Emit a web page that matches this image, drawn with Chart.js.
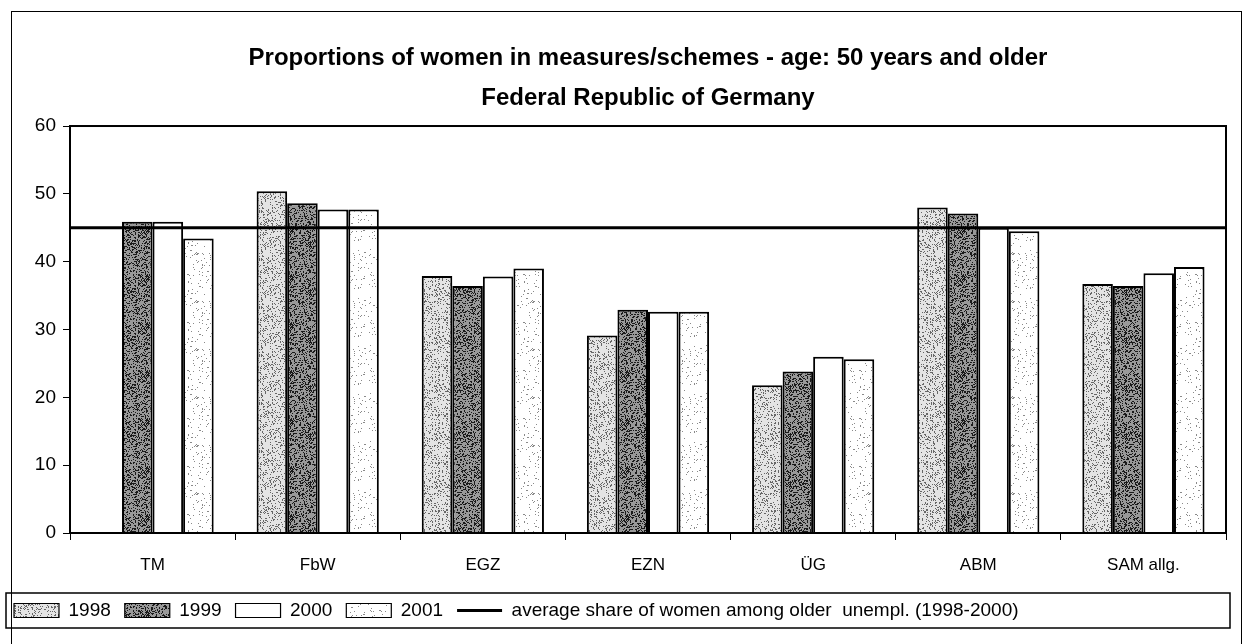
<!DOCTYPE html>
<html><head><meta charset="utf-8">
<script src="https://cdn.jsdelivr.net/npm/chart.js@4/dist/chart.umd.min.js"></script>
<style>html,body{margin:0;padding:0;background:#fff}#wrap{width:1246px;height:644px}</style>
</head><body><div id="wrap"><canvas id="c" width="1246" height="644"></canvas></div>
<script>
// ---- data ----
const categories = ['TM', 'FbW', 'EGZ', 'EZN', 'ÜG', 'ABM', 'SAM allg.'];
const seriesNames = ['1998', '1999', '2000', '2001'];
const values1998 = [null, 50.4, 37.9, 29.1, 21.8, 48.0, 36.7];
const values1999 = [45.9, 48.6, 36.4, 32.9, 23.8, 47.1, 36.4];
const values2000 = [45.9, 47.7, 37.8, 32.6, 26.0, 45.0, 38.3];
const values2001 = [43.4, 47.7, 39.0, 32.6, 25.6, 44.5, 39.2];
const averageShare = 45.0;
const averageLabel = 'average share of women among older  unempl. (1998-2000)';
const titleLines = ['Proportions of women in measures/schemes - age: 50 years and older', 'Federal Republic of Germany'];
const yTicks = [0, 10, 20, 30, 40, 50, 60];

// ---- speckle textures (styling only) ----
function rng(seed) { return function () { seed |= 0; seed = seed + 0x6D2B79F5 | 0; let t = Math.imul(seed ^ seed >>> 15, 1 | seed); t = t + Math.imul(t ^ t >>> 7, 61 | t) ^ t; return ((t ^ t >>> 14) >>> 0) / 4294967296; }; }
function speckle(base, dot, density, seed) {
  const c = document.createElement('canvas'); c.width = 48; c.height = 48;
  const g = c.getContext('2d'); g.fillStyle = base; g.fillRect(0, 0, 48, 48);
  const r = rng(seed); g.fillStyle = dot;
  for (let i = 0; i < 48 * 48 * density; i++) { g.fillRect(Math.floor(r() * 48), Math.floor(r() * 48), 1, 1); }
  return g.createPattern(c, 'repeat');
}
const fills = [
  speckle('#e4e4e4', '#666666', 0.22, 11),
  speckle('#999999', '#1a1a1a', 0.38, 23),
  '#ffffff',
  speckle('#ffffff', '#8a8a8a', 0.05, 37)
];

Chart.defaults.font.family = "'Liberation Sans', Arial, sans-serif";
Chart.defaults.color = '#000';

const barData = [values1998, values1999, values2000, values2001];
const datasets = seriesNames.map((name, i) => ({
  type: 'bar', label: name, data: barData[i], backgroundColor: fills[i], indexAxis: 'x',
  borderColor: '#000', borderWidth: 2, xAxisID: 'x', yAxisID: 'y', order: 1,
  categoryPercentage: 0.74, barPercentage: 1.0
}));
datasets.push({
  type: 'line', label: averageLabel, indexAxis: 'x',
  data: [{ x: 0, y: averageShare }, { x: 1, y: averageShare }],
  xAxisID: 'xAvg', yAxisID: 'y', borderColor: '#000', borderWidth: 3,
  pointRadius: 0, fill: false, order: 0
});

const framePlugin = {
  id: 'frame',
  afterLayout(chart) {
    const a = chart.chartArea;
    if (chart.titleBlock) { chart.titleBlock.left = a.left; chart.titleBlock.right = a.right; }
  },
  afterDatasetsDraw(chart) {
    const a = chart.chartArea, ctx = chart.ctx;
    ctx.save(); ctx.strokeStyle = '#000'; ctx.lineWidth = 2;
    ctx.strokeRect(a.left, a.top, a.right - a.left, a.bottom - a.top);
    ctx.restore();
  },
  afterDraw(chart) {
    const ctx = chart.ctx, lg = chart.legend;
    ctx.save(); ctx.strokeStyle = '#000';
    ctx.lineWidth = 1;
    ctx.strokeRect(11.5, 11.5, chart.width - 16, chart.height + 20);
    const hb = lg.legendHitBoxes;
    const top = hb[0].top - 8, bottom = hb[0].top + hb[0].height + 8;
    ctx.lineWidth = 1.5;
    ctx.strokeRect(6, top, chart.width - 22, bottom - top);
    ctx.restore();
  }
};

new Chart(document.getElementById('c'), {
  type: 'bar',
  data: { labels: categories, datasets },
  options: {
    indexAxis: 'y',
    responsive: false, animation: false, devicePixelRatio: 1,
    layout: { padding: { left: 0, right: 20, top: 0, bottom: 14 } },
    scales: {
      x: {
        type: 'category', position: 'bottom', offset: true,
        grid: { display: true, offset: true, drawOnChartArea: false, tickLength: 7, color: '#000', lineWidth: 1 },
        border: { color: '#000', width: 2 },
        ticks: { font: { size: 17 }, padding: 15, color: '#000' },
        afterFit(s) { s.height = 54; }
      },
      xAvg: { type: 'linear', position: 'bottom', min: 0, max: 1, offset: false, display: false },
      y: {
        type: 'linear', position: 'left', min: 0, max: 60, offset: false,
        afterBuildTicks(s) { s.ticks = yTicks.map(v => ({ value: v })); },
        grid: { offset: false, drawOnChartArea: false, tickLength: 7, color: '#000' },
        border: { color: '#000', width: 2 },
        ticks: { font: { size: 19 }, padding: 7, color: '#000' },
        afterFit(s) { s.width = 70; }
      }
    },
    plugins: {
      title: {
        display: true, text: titleLines, color: '#000',
        font: { size: 24, weight: 'bold', lineHeight: 1.667 },
        padding: { top: 38, bottom: 8 }
      },
      legend: {
        position: 'bottom', align: 'start',
        labels: {
          usePointStyle: true, pointStyleWidth: 45, boxHeight: 14,
          padding: 14, font: { size: 19 }, color: '#000',
          generateLabels(chart) {
            return chart.data.datasets.map((ds, i) => ({
              text: ds.label, datasetIndex: i, hidden: false, fontColor: '#000',
              fillStyle: ds.type === 'line' ? '#000' : ds.backgroundColor,
              strokeStyle: '#000', lineWidth: ds.type === 'line' ? 3 : 1.2,
              pointStyle: ds.type === 'line' ? 'line' : 'rect'
            }));
          }
        }
      },
      tooltip: { enabled: false }
    }
  },
  plugins: [framePlugin]
});
</script></body></html>
